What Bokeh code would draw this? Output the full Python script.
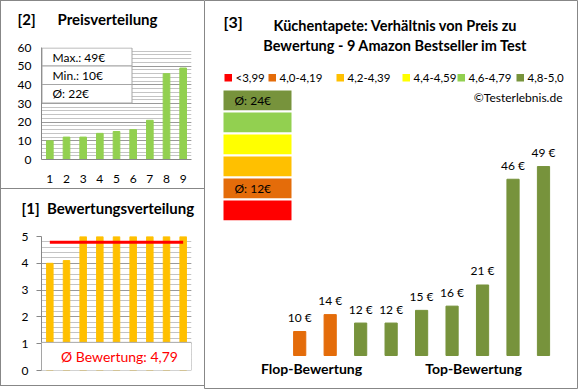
from bokeh.plotting import figure
from bokeh.models import Range1d, FactorRange, Label, BoxAnnotation, FixedTicker
from bokeh.layouts import row, column
from bokeh.embed import file_html
from bokeh.resources import INLINE
from bokeh.core.properties import value

# ---------------- data ----------------
ratings = [4.0, 4.1, 5.0, 5.0, 5.0, 5.0, 5.0, 5.0, 5.0]
prices = [10, 14, 12, 12, 15, 16, 21, 46, 49]
categories = ["1", "2", "3", "4", "5", "6", "7", "8", "9"]
price_ticks = [0, 10, 20, 30, 40, 50, 60]
rating_ticks = [0, 1, 2, 3, 4, 5]
legend_labels = ["<3,99", "4,0-4,19", "4,2-4,39", "4,4-4,59", "4,6-4,79", "4,8-5,0"]
legend_lower = [0.0, 4.0, 4.2, 4.4, 4.6, 4.8]
legend_colors = ["#FF0000", "#E46C0A", "#FFC000", "#FFFF00", "#92D050", "#77933C"]

FONT = "Lato"
BORDER = "#878787"
GRID_MAJ = "#9a9a9a"
GRID_MIN = "#c4c4c4"
NB = "\u00a0"


def bin_index(r):
    idx = 0
    for k, lo in enumerate(legend_lower):
        if r >= lo:
            idx = k
    return idx


bar_colors = [legend_colors[bin_index(r)] for r in ratings]
avg_price = sum(prices) / len(prices)
avg_rating = sum(ratings) / len(ratings)


def fmt_de(v, d=2):
    return f"{v:.{d}f}".replace(".", ",")


def sbox(left, right, bottom, top, **kw):
    return BoxAnnotation(left=left, right=right, bottom=bottom, top=top,
                         left_units="screen", right_units="screen",
                         top_units="screen", bottom_units="screen", **kw)


def screen_label(x, y, text, size="12px", bold=False, align="left", color="#000000", baseline="middle"):
    return Label(x=x, y=y, x_units="screen", y_units="screen", text=text,
                 text_font=FONT, text_font_size=size,
                 text_font_style="bold" if bold else "normal",
                 text_align=align, text_baseline=baseline, text_color=color)


def css_border(*sides):
    return {f"border-{s}": f"1px solid {BORDER}" for s in sides}


def style_axis(ax, tick_out=0, standoff=10):
    ax.major_tick_out = tick_out
    ax.major_tick_in = 0
    ax.minor_tick_out = 0
    ax.minor_tick_in = 0
    ax.axis_line_color = BORDER
    ax.major_tick_line_color = BORDER
    ax.major_label_text_font = FONT
    ax.major_label_text_font_size = "12px"
    ax.major_label_text_color = "#000000"
    ax.major_label_standoff = standoff


# ---------------- [2] Preisverteilung ----------------
L2, R2, T2, B2 = 40, 13, 46, 31
W2, H2 = 204, 189
p2 = figure(width=W2, height=H2, x_range=FactorRange(*categories),
            y_range=Range1d(price_ticks[0], price_ticks[-1]),
            output_backend="svg", toolbar_location=None,
            min_border_left=L2, min_border_right=R2, min_border_top=T2, min_border_bottom=B2,
            styles=css_border("left", "top", "bottom"))
p2.add_layout(screen_label(-24, 29, "[2]" + NB * 6 + "Preisverteilung", size="15px", bold=True), "above")
p2.vbar(x=categories, top=sorted(prices), width=0.4, color="#92D050")
p2.yaxis.ticker = FixedTicker(ticks=price_ticks, minor_ticks=list(range(0, 61, 2)))
p2.xgrid.visible = False
p2.ygrid.grid_line_color = GRID_MAJ
p2.ygrid.minor_grid_line_color = GRID_MIN
p2.outline_line_color = None
style_axis(p2.yaxis[0], 0, 10)
style_axis(p2.xaxis[0], 0, 15)

# stats box
row_edges = [111.5, 93.5, 75.0, 56.5]
stats = [f"Max.: {max(prices)}€", f"Min.: {min(prices)}€", f"Ø: {round(avg_price)}€"]
for k, txt in enumerate(stats):
    p2.add_layout(sbox(0.5, 90.5, row_edges[k + 1], row_edges[k],
                       fill_color="white", fill_alpha=1, line_color="#a6a6a6", line_alpha=1))
    p2.add_layout(screen_label(11, (row_edges[k] + row_edges[k + 1]) / 2, txt, size="12px"))

# ---------------- [1] Bewertungsverteilung ----------------
L1, R1, T1, B1 = 34, 14, 47, 16
W1, H1 = 204, 197
fw1 = W1 - L1 - R1
p1 = figure(width=W1, height=H1, x_range=FactorRange(*categories),
            y_range=Range1d(rating_ticks[0], rating_ticks[-1]),
            output_backend="svg", toolbar_location=None, x_axis_location=None,
            min_border_left=L1, min_border_right=R1, min_border_top=T1, min_border_bottom=B1,
            styles=css_border("left", "bottom"))
p1.add_layout(screen_label(-20, 29, "[1]" + NB * 2 + "Bewertungsverteilung", size="15px", bold=True), "above")
p1.vbar(x=categories, top=sorted(ratings), width=0.39, color="#FFC000")
p1.line(x=[categories[0], categories[-1]], y=[avg_rating, avg_rating], line_width=3, color="#FF0000")
p1.yaxis.ticker = FixedTicker(ticks=rating_ticks, minor_ticks=[i / 5 for i in range(0, 26)])
p1.xgrid.visible = False
p1.ygrid.grid_line_color = GRID_MAJ
p1.ygrid.minor_grid_line_color = GRID_MIN
p1.outline_line_color = None
style_axis(p1.yaxis[0], 5, 8)
p1.add_layout(BoxAnnotation(bottom=0, top=1.05, fill_color="white", fill_alpha=1,
                            line_color="#a6a6a6", line_alpha=1, line_width=1))
p1.add_layout(Label(x=fw1 / 2, y=0.52, x_units="screen", y_units="data",
                    text=f"Ø Bewertung: {fmt_de(avg_rating)}", text_font=FONT, text_font_size="14px",
                    text_align="center", text_baseline="middle", text_color="#FF0000"))

# ---------------- [3] Preis / Bewertung ----------------
W3, H3 = 374, 389
axis_min = 4.33
px_per_eur = 4.23
px_per_cat = 30.475
x_start = 1 - 95.2 / px_per_cat
y_start = axis_min - 34 / px_per_eur
p3 = figure(width=W3, height=H3,
            x_range=Range1d(x_start, x_start + W3 / px_per_cat),
            y_range=Range1d(y_start, y_start + H3 / px_per_eur),
            output_backend="svg", toolbar_location=None,
            x_axis_location=None, y_axis_location=None, min_border=0)
p3.grid.visible = False
p3.outline_line_color = BORDER
idx = list(range(1, len(prices) + 1))
p3.vbar(x=idx, top=prices, bottom=axis_min, width=0.4, color=bar_colors)
p3.text(x=idx, y=prices, text=[f"{v} €" for v in prices], text_align="center",
        text_baseline="middle", y_offset=-14, text_font=value(FONT), text_font_size="12px",
        text_color="#000000")

p3.add_layout(screen_label(19, 368, "[3]", size="16px", bold=True))
p3.add_layout(screen_label(191, 364, "Küchentapete: Verhältnis von Preis zu", size="14.5px", bold=True, align="center"))
p3.add_layout(screen_label(191, 344, "Bewertung - 9 Amazon Bestseller im Test", size="14.5px", bold=True, align="center"))

legend_x = [20, 64, 132, 198, 253, 312]
for k, lab in enumerate(legend_labels):
    x0 = legend_x[k]
    p3.add_layout(sbox(x0, x0 + 7.5, 308, 315.5, fill_color=legend_colors[k], fill_alpha=1, line_color=None))
    p3.add_layout(screen_label(x0 + 11, 312, lab, size="11.5px"))
p3.add_layout(screen_label(358, 292, "©Testerlebnis.de", size="12px", align="right"))

# colour scale boxes (top = best)
for k in range(len(legend_colors)):
    ci = len(legend_colors) - 1 - k
    top = 299 - 22 * k
    p3.add_layout(sbox(19, 87, top - 19.7, top, fill_color=legend_colors[ci], fill_alpha=1, line_color=None))
    members = [p for p, r in zip(prices, ratings) if bin_index(r) == ci]
    if members:
        p3.add_layout(screen_label(30, top - 9.5, f"Ø: {round(sum(members) / len(members))}€", size="12px"))

p3.add_layout(screen_label(107, 21, "Flop-Bewertung", size="14px", bold=True, align="center"))
p3.add_layout(screen_label(269, 21, "Top-Bewertung", size="14px", bold=True, align="center"))

layout = row(column(p2, p1), p3)
open("out.html", "w").write(file_html(layout, INLINE))
